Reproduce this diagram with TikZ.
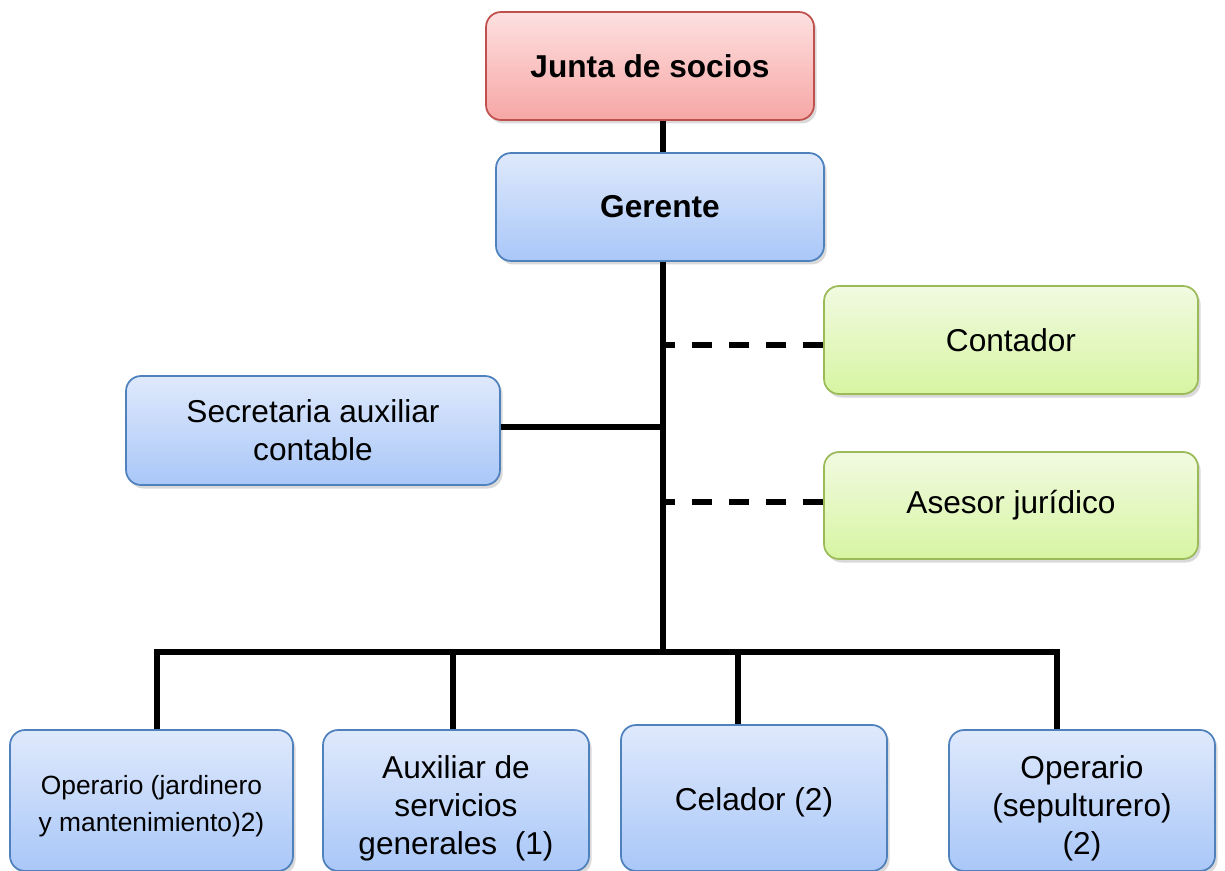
\documentclass[tikz,border=0pt]{standalone}
\usepackage{fontspec}
\setmainfont{Liberation Sans}
\usetikzlibrary{shadows}

\definecolor{redtop}{HTML}{FDE0E0}
\definecolor{redbot}{HTML}{F6A7A5}
\definecolor{redline}{HTML}{C0504D}
\definecolor{bluetop}{HTML}{DFE9FC}
\definecolor{bluebot}{HTML}{A9C7F8}
\definecolor{blueline}{HTML}{4F81BD}
\definecolor{greentop}{HTML}{F1FAE1}
\definecolor{greenbot}{HTML}{D7F5A2}
\definecolor{greenline}{HTML}{9BBB59}

% strut that pushes a box text a little lower
\newcommand{\lowstrut}[1]{\rule{0pt}{#1}}

\tikzset{
  orgbox/.style={rounded corners=0.3cm, line width=1pt, align=center,
    inner sep=2pt, font=\fontsize{18}{21.5}\selectfont,
    drop shadow={opacity=0.3, shadow xshift=1.5pt, shadow yshift=-2pt}},
  redbox/.style={orgbox, draw=redline, top color=redtop, bottom color=redbot},
  bluebox/.style={orgbox, draw=blueline, top color=bluetop, bottom color=bluebot},
  greenbox/.style={orgbox, draw=greenline, top color=greentop, bottom color=greenbot},
  link/.style={line width=3pt, black},
  dashlink/.style={link, dash pattern=on 11.4pt off 9.7pt}
}

\begin{document}
\begin{tikzpicture}[x=0.02cm, y=-0.02cm]
  \useasboundingbox (0,0) rectangle (1225,871);

  % Top of the chart
  \node[redbox, minimum width=6.56cm, minimum height=2.16cm] (junta) at (650,66) {\textbf{Junta de socios}};
  \node[bluebox, minimum width=6.56cm, minimum height=2.16cm] (gerente) at (660,207) {\textbf{Gerente}};

  % Staff and advisors
  \node[greenbox, minimum width=7.48cm, minimum height=2.16cm] (contador) at (1011,340) {Contador};
  \node[greenbox, minimum width=7.48cm, minimum height=2.14cm] (asesor) at (1011,505.5) {Asesor jurídico};
  \node[bluebox, minimum width=7.48cm, minimum height=2.18cm] (secretaria) at (313,430.5) {Secretaria auxiliar\\contable};

  % Operative staff
  \node[bluebox, minimum width=5.66cm, minimum height=2.82cm, font=\fontsize{15}{21}\selectfont] (oper1) at (151.5,800.5) {\lowstrut{17pt}Operario (jardinero\\y mantenimiento)2)};
  \node[bluebox, minimum width=5.32cm, minimum height=2.82cm] (auxiliar) at (456,800.5) {\lowstrut{22pt}Auxiliar de\\servicios\\generales~~(1)};
  \node[bluebox, minimum width=5.32cm, minimum height=2.92cm] (celador) at (754,798) {\lowstrut{18pt}Celador (2)};
  \node[bluebox, minimum width=5.32cm, minimum height=2.82cm] (oper2) at (1082,800.5) {\lowstrut{22pt}Operario\\(sepulturero)\\(2)};

  % Main spine
  \coordinate (hub) at (663,652);
  \draw[link] (hub |- junta.south) -- (hub |- gerente.north);
  \draw[link] (hub |- gerente.south) -- (hub);
  \draw[link] ([yshift=0.07cm]secretaria.east) -- ([yshift=0.07cm]secretaria.east -| hub);
  \draw[dashlink] ([yshift=-0.1cm]contador.west) -- ([yshift=-0.1cm]contador.west -| hub);
  \draw[dashlink] ([yshift=0.07cm]asesor.west) -- ([yshift=0.07cm]asesor.west -| hub);

  % Bottom bar and drops
  \draw[link] (157,0 |- oper1.north) -- (157,652) -- (1057,652) -- (1057,0 |- oper2.north);
  \draw[link] (453,652) -- (453,0 |- auxiliar.north);
  \draw[link] (738,652) -- (738,0 |- celador.north);
\end{tikzpicture}
\end{document}
